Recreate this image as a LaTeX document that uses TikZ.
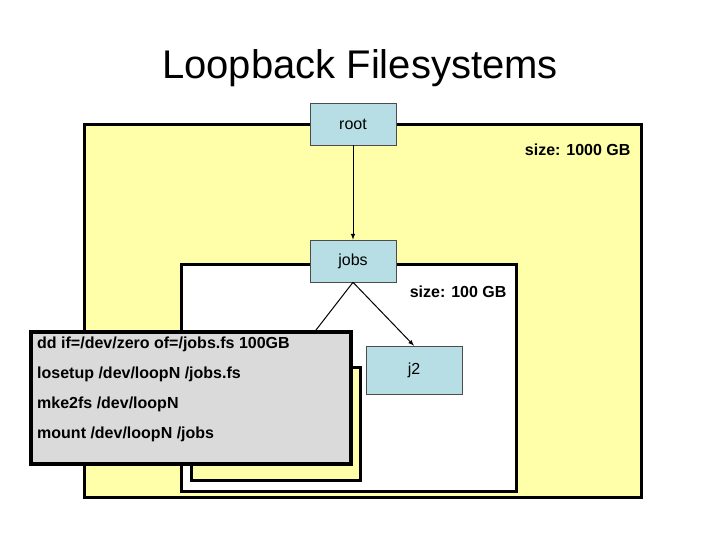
\documentclass[tikz,border=0pt]{standalone}
\usepackage{fontspec}
\setmainfont{Liberation Sans}
\begin{document}
\begin{tikzpicture}[x=1pt,y=-1pt,
  fs/.style={draw=black,line width=3pt},
  bx/.style={draw=black!70,fill=cyan!10!blue!5!white,fill={rgb,255:red,182;green,222;blue,228},line width=0.6pt,minimum width=86pt,minimum height=42pt,inner sep=0pt,font=\fontsize{16}{18}\selectfont},
  lab/.style={font=\bfseries\fontsize{16}{18}\selectfont,anchor=east}]
\useasboundingbox (0,0) rectangle (720,540);
\node (title) at (360,68) {\fontsize{40}{44}\selectfont Loopback Filesystems};
\draw[fs,fill={rgb,255:red,255;green,255;blue,170}] (84,125) rectangle (641,497);
\draw[fs,fill=white] (181,264) rectangle (516,491);
\draw[fs,fill={rgb,255:red,255;green,255;blue,170}] (191,367) rectangle (360,480);
\node[bx] (root) at (353,124) {root};
\node[lab] (s1) at (634,150) {size: 1000 GB};
\node[bx] (jobs) at (353,261) {jobs};
\node[lab] (s2) at (510,292) {size: 100 GB};
\node[bx,minimum width=96pt,minimum height=48pt] (j2) at (414,370) {j2};
\coordinate (j1) at (285,370);
\draw[-latex,line width=1pt] (root) -- (jobs);
\draw[line width=1pt] (jobs.south) -- (j1);
\draw[-latex,line width=1pt] (jobs.south) -- (j2.north);
\node[draw=black,line width=4pt,fill={rgb,255:red,218;green,218;blue,218},minimum width=320pt,minimum height=132pt,anchor=north west,inner sep=0pt] (cmd) at (29,330) {};
\node[anchor=north west,align=left,font=\bfseries\fontsize{16}{30}\selectfont,inner sep=0pt] (cmdt) at (37,337) {dd if=/dev/zero of=/jobs.fs 100GB\\losetup /dev/loopN /jobs.fs\\mke2fs /dev/loopN\\mount /dev/loopN /jobs};
\end{tikzpicture}
\end{document}
